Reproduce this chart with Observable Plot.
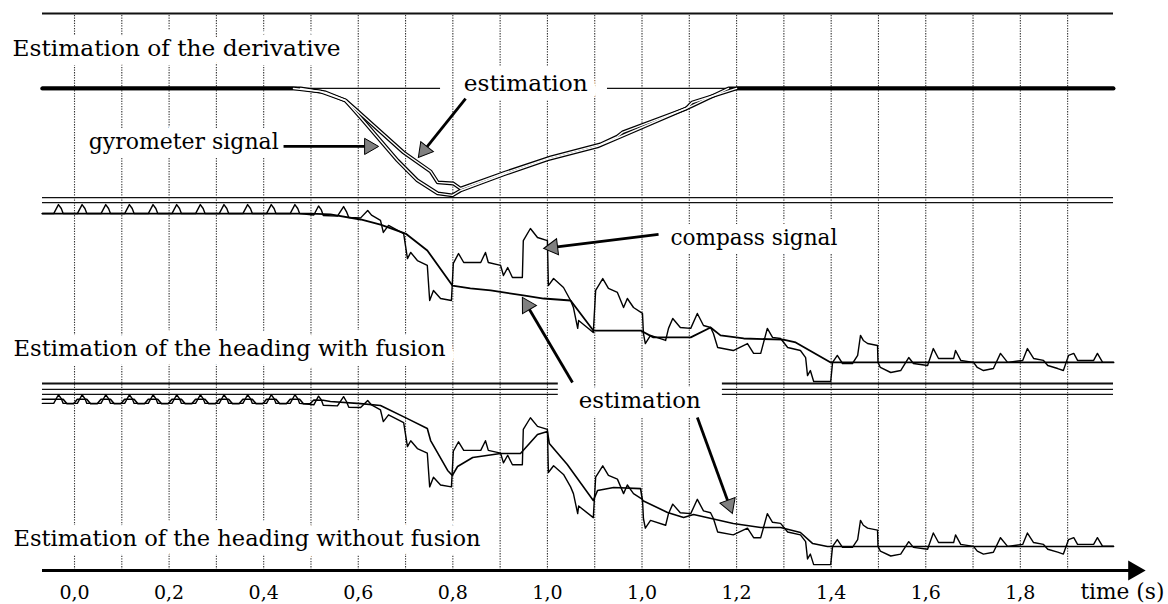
<!DOCTYPE html>
<html><head><meta charset="utf-8">
<script src="https://cdn.jsdelivr.net/npm/d3@7"></script>
<script src="https://cdn.jsdelivr.net/npm/@observablehq/plot@0.6"></script>
<style>body{margin:0;background:#fff}</style>
</head><body><div id="chart"></div>
<script>
// ---------- data (time in s) ----------
const gridTimes = [0,0.1,0.2,0.3,0.4,0.5,0.6,0.7,0.8,0.9,1.0,1.1,1.2,1.3,1.4,1.5,1.6,1.7,1.8,1.9,2.0,2.1];
const tickTimes = [0,0.2,0.4,0.6,0.8,1.0,1.2,1.4,1.6,1.8,2.0];
const tickLabels = ["0,0","0,2","0,4","0,6","0,8","1,0","1,0","1,2","1,4","1,6","1,8"];

// derivative panel: [time, value]
const gyroDerivative = [[-0.068,0],[0.463,0],[0.520,-1.7],[0.573,-6.7],[0.605,-16.1],[0.683,-40],[0.725,-51.1],[0.768,-58.3],[0.799,-59.4],[0.816,-56.7],[0.907,-47.8],[1.000,-39.4],[1.106,-32.2],[1.155,-26.7],[1.303,-10],[1.383,0],[2.197,0]];
const estDerivative = [[-0.068,0],[0.478,0],[0.531,-2.2],[0.573,-6.7],[0.590,-10.6],[0.696,-35.6],[0.753,-46.1],[0.768,-52.2],[0.801,-52.8],[0.816,-55.6],[0.911,-46.7],[1.007,-38.3],[1.112,-31.1],[1.148,-26.7],[1.159,-24.4],[1.294,-11.1],[1.306,-7.8],[1.400,0],[2.197,0]];

// heading panels: [time, heading] (heading in % of panel height)
const compassHeading = [[-0.068,94.4],
[-0.044,94.4],[-0.034,99.4],[-0.028,97.2],[-0.024,94.4],
[0.006,94.4],[0.016,99.4],[0.022,97.2],[0.026,94.4],
[0.056,94.4],[0.066,99.4],[0.072,97.2],[0.076,94.4],
[0.106,94.4],[0.116,99.4],[0.122,97.2],[0.126,94.4],
[0.156,94.4],[0.166,99.4],[0.172,97.2],[0.176,94.4],
[0.206,94.4],[0.216,99.4],[0.222,97.2],[0.226,94.4],
[0.256,94.4],[0.266,99.4],[0.272,97.2],[0.276,94.4],
[0.306,94.4],[0.316,99.4],[0.322,97.2],[0.326,94.4],
[0.356,94.4],[0.366,99.4],[0.372,97.2],[0.376,94.4],
[0.406,94.4],[0.416,99.4],[0.422,97.2],[0.426,94.4],
[0.456,94.4],[0.466,99.4],[0.472,97.2],[0.476,94.4],
[0.506,93.6],[0.516,98.6],[0.522,96.4],[0.526,93.3],
[0.556,93.0],[0.569,98.3],[0.575,95.5],[0.580,92.2],
[0.605,92.0],[0.620,96.1],[0.628,93.5],[0.647,90.6],
[0.653,83.9],[0.664,87.8],[0.696,83.3],[0.704,69.4],[0.711,72.8],[0.725,68.3],[0.746,65.6],[0.751,46.1],[0.759,51.7],[0.774,47.2],[0.797,46.1],[0.801,66.7],[0.812,72.2],[0.823,67.2],[0.859,67.2],[0.869,72.8],[0.875,67.2],[0.901,65.6],[0.907,60],[0.916,64.4],[0.926,58.9],[0.947,58.9],[0.949,79.4],[0.964,86.1],[0.979,81.1],[1.000,79.4],[1.002,54.4],[1.013,58.3],[1.034,53.3],[1.049,46.1],[1.055,42.2],[1.064,30.6],[1.066,35],[1.097,28.3],[1.102,51.7],[1.117,58.3],[1.129,52.8],[1.148,50.6],[1.161,42.2],[1.169,47.2],[1.182,42.2],[1.201,38.9],[1.203,27.8],[1.207,22.2],[1.218,26.7],[1.250,23.9],[1.256,30.6],[1.265,36.1],[1.281,31.1],[1.303,30.6],[1.317,38.9],[1.330,32.2],[1.345,31.1],[1.351,27.8],[1.360,20],[1.393,18.3],[1.423,22.2],[1.436,16.7],[1.451,16.7],[1.465,30.6],[1.476,25.6],[1.493,25],[1.508,20],[1.535,18.3],[1.546,14.4],[1.550,4.4],[1.556,7.2],[1.563,1.1],[1.599,1.1],[1.603,11.7],[1.613,15.6],[1.624,11.1],[1.645,11.1],[1.656,15.6],[1.662,26.7],[1.668,23.9],[1.677,22.2],[1.698,21.1],[1.699,11.7],[1.704,8.9],[1.726,6.1],[1.747,7.2],[1.764,14.4],[1.774,11.1],[1.804,10],[1.806,11.7],[1.816,19.4],[1.827,13.9],[1.859,13.9],[1.863,18.3],[1.874,12.8],[1.901,11.7],[1.909,8.9],[1.922,7.2],[1.943,8.3],[1.958,16.7],[1.973,11.7],[2.005,12.8],[2.015,19.4],[2.028,13.9],[2.049,12.8],[2.058,10],[2.079,8.3],[2.091,7.2],[2.102,15.6],[2.113,16.7],[2.121,12.8],[2.155,12.8],[2.163,16.7],[2.174,11.7],[2.197,11.7]];

const estHeadingFusion = [[-0.068,94.4],[0.499,94.4],[0.541,93.9],[0.605,91.1],[0.647,88.3],[0.700,83.3],[0.746,73.9],[0.799,54.4],[0.837,52.8],[0.880,51.7],[0.949,48.9],[0.992,47.2],[1.049,46.1],[1.097,29.4],[1.197,29.4],[1.224,25.6],[1.303,25.6],[1.345,31.1],[1.366,26.7],[1.415,25],[1.499,24.4],[1.525,22.8],[1.599,11.7],[2.197,11.7]];

const estHeadingNoFusion = [[-0.068,96.8],
[-0.044,96.8],[-0.024,96.8],[-0.016,94.2],[-0.002,94.2],
[0.006,96.8],[0.026,96.8],[0.034,94.2],[0.048,94.2],
[0.056,96.8],[0.076,96.8],[0.084,94.2],[0.098,94.2],
[0.106,96.8],[0.126,96.8],[0.134,94.2],[0.148,94.2],
[0.156,96.8],[0.176,96.8],[0.184,94.2],[0.198,94.2],
[0.206,96.8],[0.226,96.8],[0.234,94.2],[0.248,94.2],
[0.256,96.8],[0.276,96.8],[0.284,94.2],[0.298,94.2],
[0.306,96.8],[0.326,96.8],[0.334,94.2],[0.348,94.2],
[0.356,96.8],[0.376,96.8],[0.384,94.2],[0.398,94.2],
[0.406,96.8],[0.426,96.8],[0.434,94.2],[0.448,94.2],
[0.456,96.8],[0.476,96.8],[0.484,94.2],[0.498,94.2],
[0.506,96.4],[0.526,96.2],[0.541,95.5],[0.605,94.3],[0.647,93.2],[0.704,85.6],[0.746,79.9],[0.753,72.9],[0.789,55.6],[0.799,52.7],[0.810,57.9],[0.842,63.1],[0.901,65.4],[0.943,65.4],[0.979,76.4],[1.000,78.1],[1.004,71.2],[1.042,59.0],[1.097,38.2],[1.106,44.0],[1.140,45.7],[1.197,45.1],[1.201,38.2],[1.254,31.3],[1.288,28.4],[1.309,30.1],[1.393,24.9],[1.451,22.6],[1.493,22.6],[1.535,19.7],[1.561,13.3],[1.592,11.6],[2.197,11.6]];

// annotations
const labelTexts = ["Estimation of the derivative","gyrometer signal","estimation","compass signal","estimation","Estimation of the heading with fusion","Estimation of the heading without fusion","time (s)"];
const labelTimes = [-0.131,0.030,0.823,1.260,1.066,-0.129,-0.129,2.127];
const labelLevels = [290,238.3,270.6,185,94.4,123.3,17.8,-11.8];
// arrows: tail (t,level) -> tip (t,level)
const arrowTail = [[0.442,235.6],[0.827,262.2],[1.235,186.7],[1.053,104.4],[1.317,85]];
const arrowTip  = [[0.643,235.6],[0.727,229.4],[0.992,178.9],[0.947,151.7],[1.391,31.7]];

// ---------- layout ----------
const W = 1168, H = 604;
const T0 = -0.0677, T1 = 2.197, TARROW = 2.265;
const G1 = 309.44;
const mL = 42, mR = 55, mT = 13, mB = 34;
const kx = (W - mL - mR) / (T1 - T0);
const ky = (H - mT - mB) / G1;
const labelWidths = [328, 190, 124, 167, 122, 432, 467, 84];
// panel placements on the shared vertical scale
const P1 = d => 267.8 + d;
const P2 = h => 103.9 + h;
const P3 = h => 2.2 + 0.96 * h;

const toRows = (arr, f) => arr.map(([t, v]) => ({t, y: f(v)}));
const gyro = toRows(gyroDerivative, P1);
const estD = toRows(estDerivative, P1);
const comp2 = toRows(compassHeading, P2);
const est2 = toRows(estHeadingFusion, P2);
const comp3 = toRows(compassHeading, P3);
const est3 = toRows(estHeadingNoFusion, P3);
const labels = labelTexts.map((text, i) => ({text, t: labelTimes[i], g: labelLevels[i]}));

const headR = 6;
const arrows = arrowTail.map((a, i) => {
  const b = arrowTip[i];
  const dxp = (b[0] - a[0]) * kx, dyp = -(b[1] - a[1]) * ky;
  const len = Math.hypot(dxp, dyp), ux = dxp / len, uy = dyp / len;
  const off = 1.555 * headR;
  return {t1: a[0], g1: a[1], tc: b[0] - off * ux / kx, gc: b[1] + off * uy / ky,
          rot: Math.atan2(uy, ux) * 180 / Math.PI + 90};
});

const seg = (y, ranges) => ranges.map(([x1, x2]) => ({x1, x2, y}));
const thinFrame = [
  ...seg(207.2, [[T0, T1]]), ...seg(204.4, [[T0, T1]]),
  ...seg(100.6, [[T0, 1.023], [1.370, T1]]), ...seg(97.8, [[T0, 1.023], [1.370, T1]]),
  ...seg(P1(0), [[T0, 0.774], [1.127, T1]])
];
const thickFrame = [
  ...seg(G1, [[T0, T1]]),
  ...seg(103.9, [[T0, 1.023], [1.370, T1]])
];
const inFlight = r => r.t >= 0.455 && r.t <= 1.41;
const FONT = "DejaVu Serif";

const chart = Plot.plot({
  width: W, height: H,
  marginLeft: mL, marginRight: mR, marginTop: mT, marginBottom: mB,
  x: {domain: [T0, T1]},
  y: {domain: [0, G1], axis: null},
  style: {background: "#fff", fontFamily: FONT, color: "#000"},
  marks: [
    Plot.ruleX(gridTimes, {x: d => d, y1: 0, y2: G1, stroke: "#333", strokeWidth: 1.1, strokeDasharray: "1.3,1.3"}),
    Plot.text(labels, {x: "t", y: "g", text: "text", textAnchor: "start", lineAnchor: "middle",
      fontSize: 22.5, fontFamily: FONT, fill: "#fff", stroke: "#fff", strokeWidth: 18, strokeLinejoin: "round"}),
    Plot.ruleY(thinFrame, {y: "y", x1: "x1", x2: "x2", stroke: "#111", strokeWidth: 1.2}),
    Plot.ruleY(thickFrame, {y: "y", x1: "x1", x2: "x2", stroke: "#111", strokeWidth: 2.2}),
    Plot.ruleY([0], {x1: T0, x2: TARROW - 0.02, stroke: "#000", strokeWidth: 3}),
    Plot.dot([TARROW], {x: d => d - 1.555 * 7.5 / kx, y: 0, symbol: "triangle", r: 7.5, rotate: 90, fill: "#000", stroke: "none"}),
    // derivative (hollow strokes)
    Plot.line(gyro, {x: "t", y: "y", stroke: "#000", strokeWidth: 3.8}),
    Plot.line(estD, {x: "t", y: "y", stroke: "#000", strokeWidth: 3.8}),
    Plot.line(gyro.filter(inFlight), {x: "t", y: "y", stroke: "#fff", strokeWidth: 1.4}),
    Plot.line(estD.filter(inFlight), {x: "t", y: "y", stroke: "#fff", strokeWidth: 1.4}),
    // heading with fusion
    Plot.line(comp2, {x: "t", y: "y", stroke: "#000", strokeWidth: 1.4}),
    Plot.line(est2, {x: "t", y: "y", stroke: "#000", strokeWidth: 1.8}),
    // heading without fusion
    Plot.line(comp3, {x: "t", y: "y", stroke: "#000", strokeWidth: 1.4}),
    Plot.line(est3, {x: "t", y: "y", stroke: "#000", strokeWidth: 1.6}),
    // annotation arrows
    Plot.link(arrows, {x1: "t1", y1: "g1", x2: "tc", y2: "gc", stroke: "#000", strokeWidth: 2.8}),
    Plot.dot(arrows, {x: "tc", y: "gc", rotate: "rot", symbol: "triangle", r: headR, fill: "#808080", stroke: "#000", strokeWidth: 1}),
    Plot.text(labels, {x: "t", y: "g", text: "text", textAnchor: "start", lineAnchor: "middle",
      fontSize: 22.5, fontFamily: FONT, fill: "#000"}),
    Plot.axisX(tickTimes, {tickSize: 0, tickPadding: 15, fontSize: 19, fontFamily: FONT,
      tickFormat: d => tickLabels[Math.round(d * 5)], label: null})
  ]
});
// fit each annotation to the width it has in the reference
chart.querySelectorAll('g[aria-label="text"]').forEach(g => {
  g.querySelectorAll("text").forEach((el, i) => {
    el.setAttribute("textLength", labelWidths[i]);
    el.setAttribute("lengthAdjust", "spacingAndGlyphs");
  });
});
document.getElementById("chart").appendChild(chart);
</script>
</body></html>
